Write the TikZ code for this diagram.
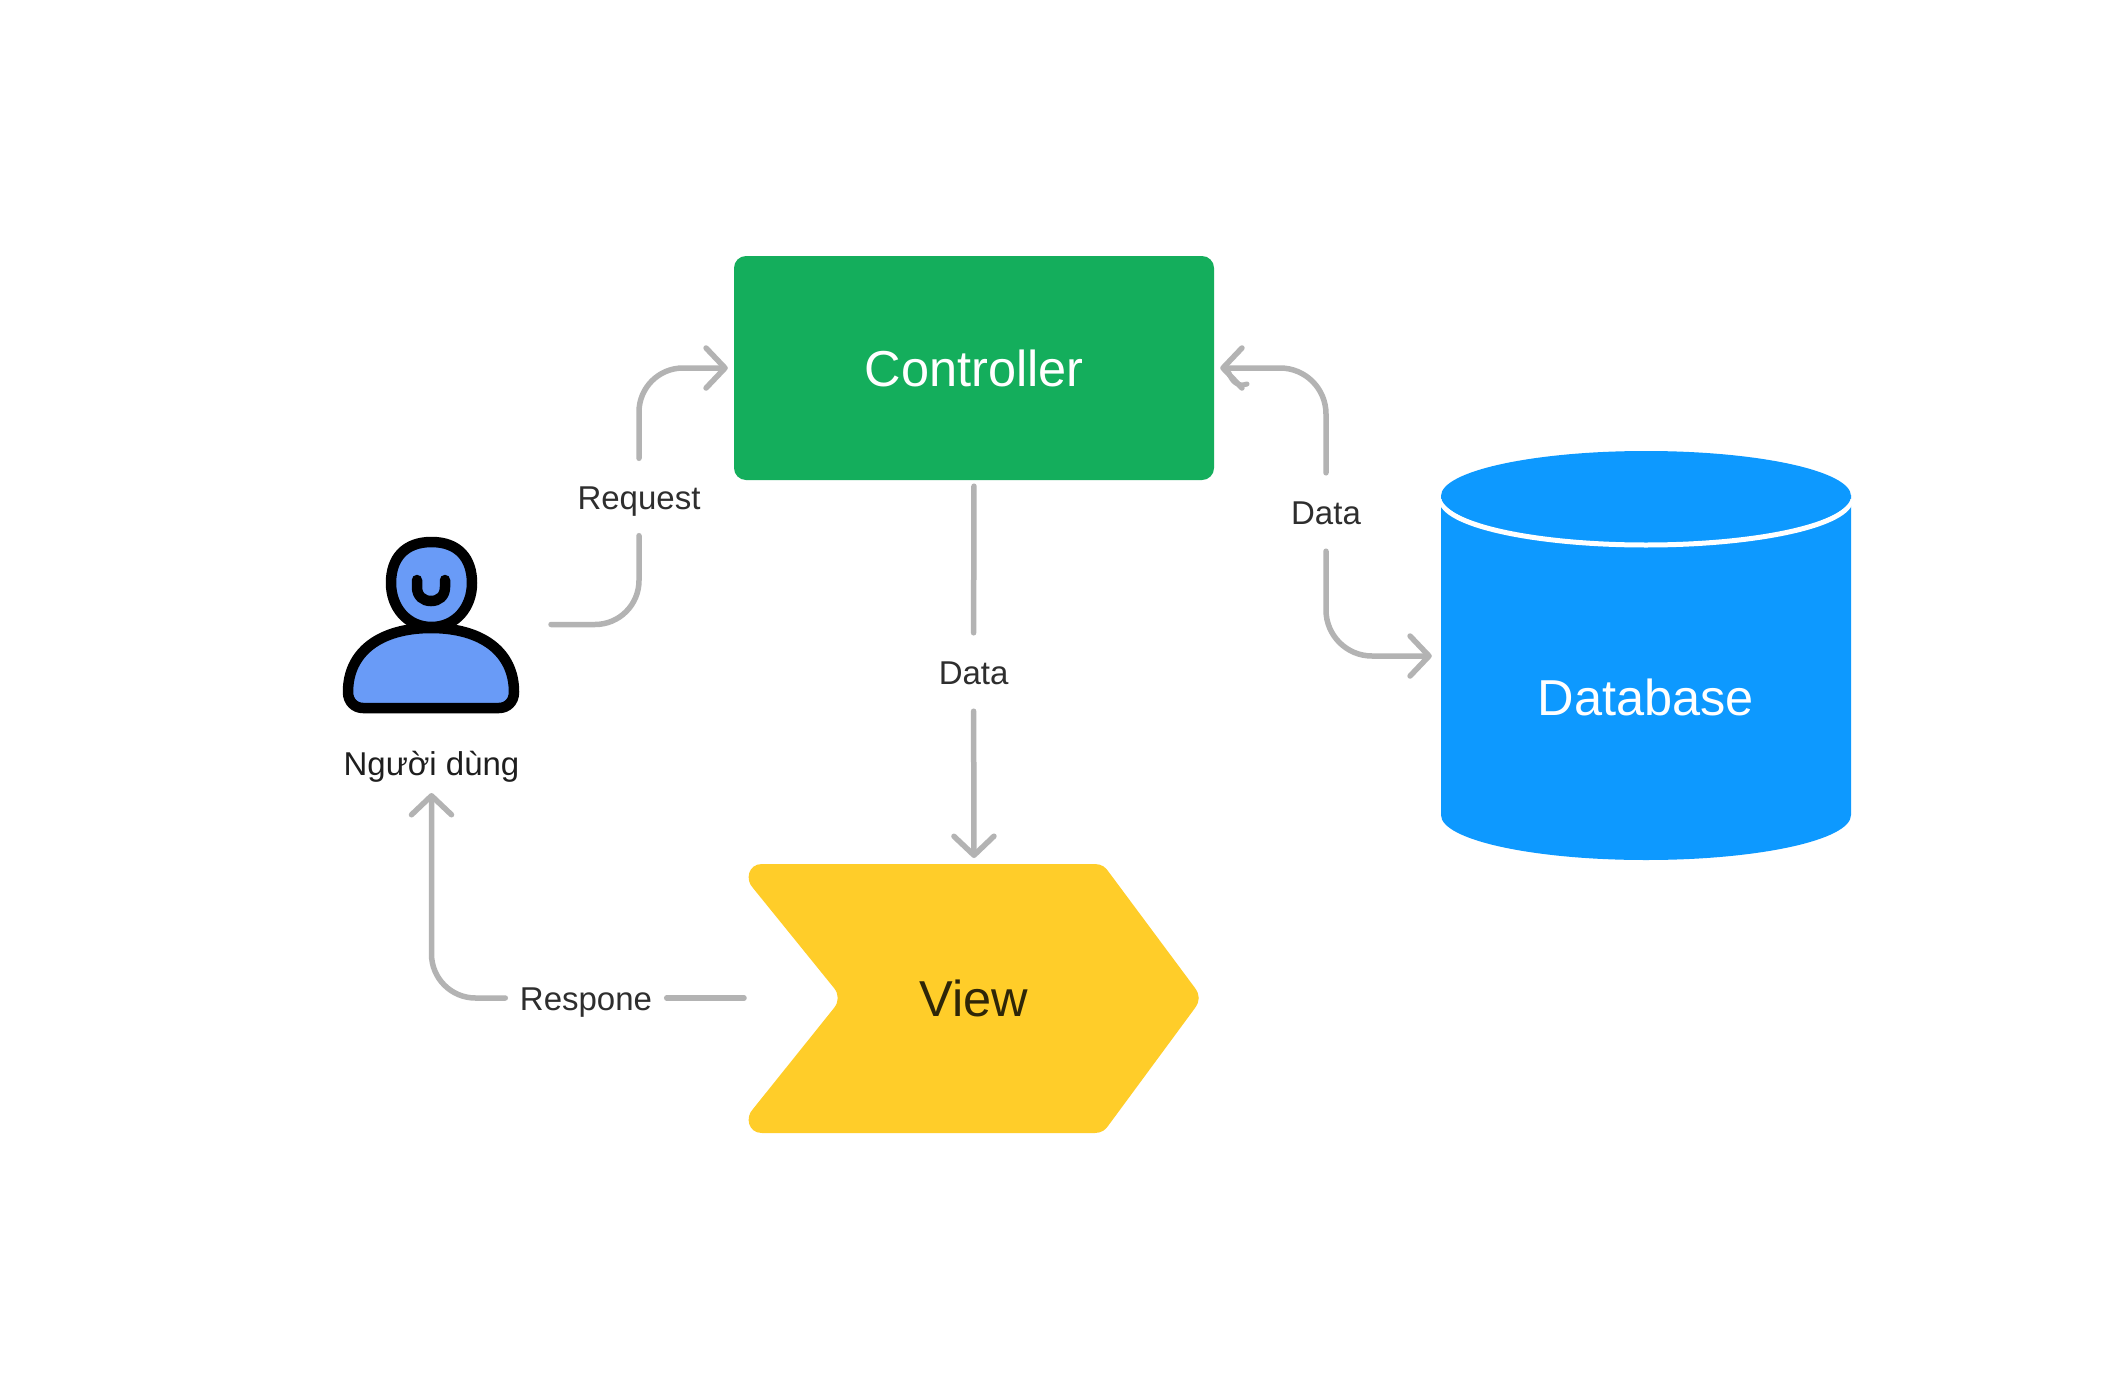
\documentclass[tikz,border=0pt]{standalone}
\usepackage{fontspec}
\setmainfont{Liberation Sans}
\usetikzlibrary{arrows.meta}
\definecolor{cgreen}{HTML}{14AE5C}
\definecolor{cblue}{HTML}{0D99FF}
\definecolor{cyellow}{HTML}{FFCD29}
\definecolor{cgray}{HTML}{B3B3B3}
\definecolor{cface}{HTML}{699BF7}
\definecolor{clabel}{HTML}{2E2E2E}
\definecolor{cname}{HTML}{1E1E1E}
\definecolor{cview}{HTML}{2E2608}
\tikzset{
  conn/.style={draw=cgray,line width=5.5pt,line cap=round,line join=round},
  tipped/.style={conn,-{Straight Barb[length=19pt,width=40pt,line width=5.5pt,round]}},
  icon/.style={draw=black,line width=10.5pt,fill=cface,line join=round},
  shapetext/.style={font=\fontsize{50.5}{60}\selectfont,text height=36pt,text depth=0pt},
  edgelabel/.style={font=\fontsize{33}{40}\selectfont,text=clabel,inner sep=0pt,anchor=center,text height=24pt,text depth=0pt},
}
\begin{document}
\begin{tikzpicture}[x=1pt,y=-1pt]
\useasboundingbox (0,0) rectangle (2110,1389);
\fill[white] (0,0) rectangle (2110,1389);
% Controller
\node[fill=cgreen,rounded corners=12pt,minimum width=480pt,minimum height=224pt,inner sep=0pt,text=white,shapetext] (ctrl) at (974,368) {Controller};
% Database
\fill[cblue] (1441,495) -- (1441,815) arc[start angle=180,end angle=0,x radius=205,y radius=45] -- (1851,495) -- cycle;
\draw[white,line width=5pt] (1441,499) arc[start angle=180,end angle=0,x radius=205,y radius=46];
\fill[cblue] (1646,496) ellipse[x radius=205,y radius=45];
\node[inner sep=0pt,minimum width=410pt,minimum height=410pt] (db) at (1646,656) {};
\node[text=white,shapetext,inner sep=0pt] (dbtext) at (1646,697) {Database};
% View
\fill[cyellow] (762,864) -- (1095,864) .. controls (1102,864) and (1106,868) .. (1108,871) -- (1195,988) .. controls (1200,995) and (1200,1001) .. (1195,1008) -- (1108,1126) .. controls (1106,1129) and (1102,1133) .. (1095,1133) -- (762,1133) .. controls (748,1133) and (745,1117) .. (753,1109) -- (834,1008) .. controls (839,1002) and (839,994) .. (834,988) -- (753,888) .. controls (745,880) and (748,864) .. (762,864) -- cycle;
\node[text=cview,shapetext,inner sep=0pt] (view) at (974,998) {View};
\coordinate (viewtop) at (974,858);
\coordinate (viewleft) at (744,998);
% User
\draw[icon] (431.5,542) .. controls (458,542) and (472,558) .. (472,583) .. controls (472,607) and (456,627) .. (431.5,627) .. controls (407,627) and (391,607) .. (391,583) .. controls (391,558) and (405,542) .. (431.5,542) -- cycle;
\draw[icon] (431,628) .. controls (482,628) and (514,652) .. (514,692) .. controls (514,702) and (507,708) .. (499,708) -- (363,708) .. controls (355,708) and (348,702) .. (348,692) .. controls (348,652) and (380,628) .. (431,628) -- cycle;
\draw[black,line width=10.5pt,line cap=round] (417,580) -- (417,587) .. controls (417,596) and (423,601) .. (431,601) .. controls (439,601) and (445,596) .. (445,587) -- (445,580);
\node[inner sep=0pt,minimum width=176pt,minimum height=176pt] (user) at (431,625) {};
\node[edgelabel,text=cname] (username) at (431.5,763) {Người dùng};
\coordinate (userout) at (551,624.5);
\coordinate (userin) at (431.5,793);
% Labels as gaps in the connectors
\node[edgelabel,minimum height=77pt] (lreq) at (639,497) {Request};
\node[edgelabel,minimum height=78pt] (ldatam) at (973.6,672) {Data};
\node[edgelabel,minimum height=78pt] (ldatar) at (1326,512) {Data};
\node[edgelabel,minimum width=161pt] (lresp) at (586,998) {Respone};
% Connectors
\draw[conn,rounded corners=44pt] (userout) -| (lreq.south);
\draw[tipped,rounded corners=44pt,shorten >=6pt] (lreq.north) |- (ctrl.west);
\draw[conn,shorten <=6pt] (ctrl.south) -- (ldatam.north);
\draw[tipped] (ldatam.south) -- (viewtop);
\draw[tipped,rounded corners=46pt,shorten >=6pt] (ldatar.north) |- (ctrl.east);
\draw[conn,line width=5pt] (1229,373) .. controls (1232,382) and (1238,387) .. (1247,384);
\draw[tipped,rounded corners=46pt,shorten >=9pt] (ldatar.south) |- (db.west);
\draw[conn] (viewleft) -- (lresp.east);
\draw[tipped,rounded corners=44pt] (lresp.west) -| (userin);
\end{tikzpicture}
\end{document}
